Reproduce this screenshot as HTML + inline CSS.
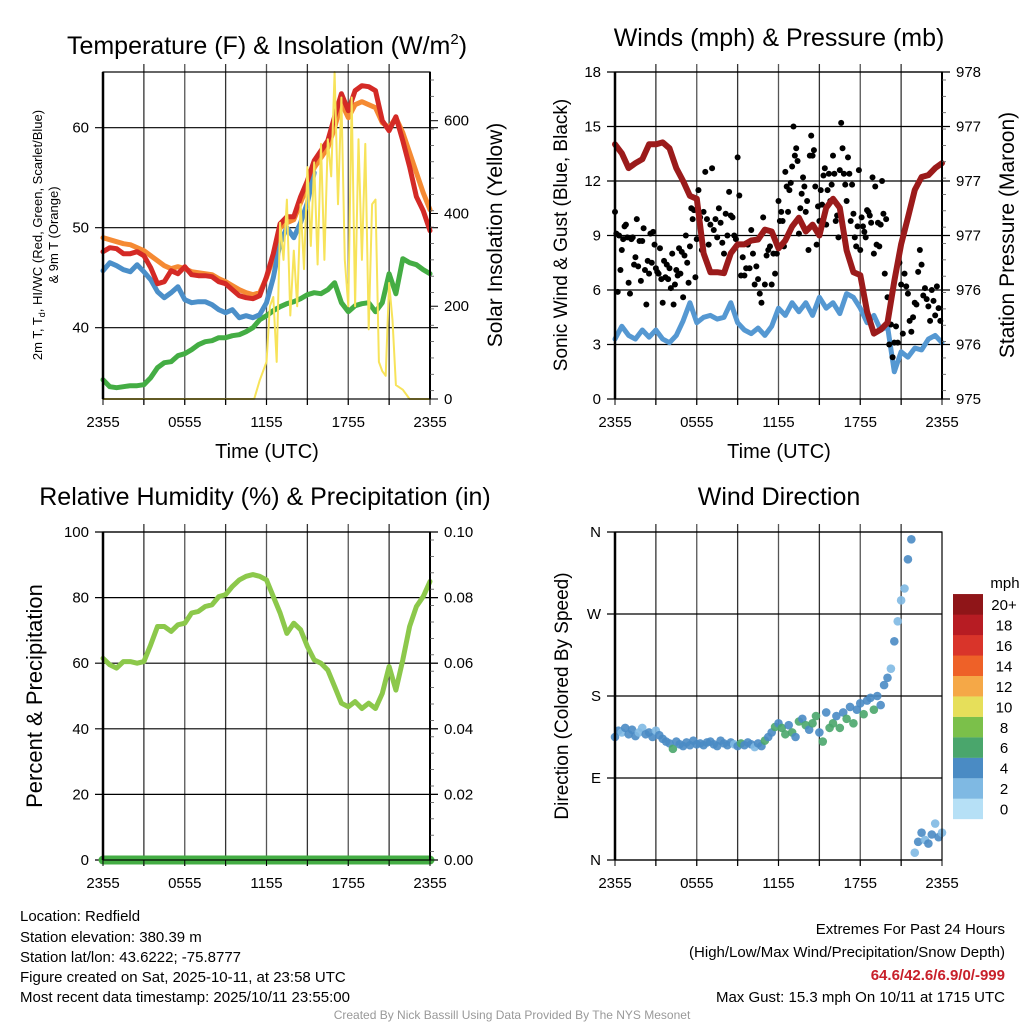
<!DOCTYPE html>
<html><head><meta charset="utf-8"><style>
html,body{margin:0;padding:0;background:#fff;}
svg{display:block;font-family:"Liberation Sans",Arial,sans-serif;}
</style></head><body>
<svg id="fig" width="1024" height="1024" viewBox="0 0 1024 1024" xmlns="http://www.w3.org/2000/svg">
<rect width="1024" height="1024" fill="#fff"/>
<g id="layer-grid"></g>
<g id="layer-data"></g>
<g id="layer-axes"></g>
<g id="layer-text" fill="#000">
 <text x="267" y="54" font-size="25" text-anchor="middle">Temperature (F) &amp; Insolation (W/m<tspan font-size="15" dy="-10">2</tspan><tspan dy="10">)</tspan></text>
 <text x="779" y="46" font-size="25" text-anchor="middle">Winds (mph) &amp; Pressure (mb)</text>
 <text x="265" y="505" font-size="25" text-anchor="middle">Relative Humidity (%) &amp; Precipitation (in)</text>
 <text x="779" y="505" font-size="25" text-anchor="middle">Wind Direction</text>
 <text x="267" y="458" font-size="20" text-anchor="middle">Time (UTC)</text>
 <text x="779" y="458" font-size="20" text-anchor="middle">Time (UTC)</text>
 <text transform="translate(42,235) rotate(-90)" font-size="13" text-anchor="middle">2m T, T<tspan font-size="9" dy="3">d</tspan><tspan dy="-3">, HI/WC (Red, Green, Scarlet/Blue)</tspan></text>
 <text transform="translate(58,235) rotate(-90)" font-size="13" text-anchor="middle">&amp; 9m T (Orange)</text>
 <text transform="translate(502,235) rotate(-90)" font-size="21" text-anchor="middle">Solar Insolation (Yellow)</text>
 <text transform="translate(567,235) rotate(-90)" font-size="19" text-anchor="middle">Sonic Wind &amp; Gust (Blue, Black)</text>
 <text transform="translate(1014,235) rotate(-90)" font-size="21" text-anchor="middle">Station Pressure (Maroon)</text>
 <text transform="translate(42,696) rotate(-90)" font-size="22" text-anchor="middle">Percent &amp; Precipitation</text>
 <text transform="translate(568,696) rotate(-90)" font-size="19" text-anchor="middle">Direction (Colored By Speed)</text>
 <g font-size="15">
  <text x="20" y="921">Location: Redfield</text>
  <text x="20" y="942">Station elevation: 380.39 m</text>
  <text x="20" y="962">Station lat/lon: 43.6222; -75.8777</text>
  <text x="20" y="982">Figure created on Sat, 2025-10-11, at 23:58 UTC</text>
  <text x="20" y="1002">Most recent data timestamp: 2025/10/11 23:55:00</text>
  <text x="1005" y="934" text-anchor="end">Extremes For Past 24 Hours</text>
  <text x="1005" y="957" text-anchor="end">(High/Low/Max Wind/Precipitation/Snow Depth)</text>
  <text x="1005" y="980" text-anchor="end" fill="#c8202a" font-weight="bold">64.6/42.6/6.9/0/-999</text>
  <text x="1005" y="1002" text-anchor="end">Max Gust: 15.3 mph On 10/11 at 1715 UTC</text>
 </g>
 <text x="512" y="1019" font-size="12" fill="#999" text-anchor="middle">Created By Nick Bassill Using Data Provided By The NYS Mesonet</text>
</g>
</svg>
<script>
// ---- data (half-hourly, 2355 -> 2355 UTC) ----
const timeTicks = ["2355","0555","1155","1755","2355"];
const tempTicks = [40,50,60];
const insolTicks = [0,200,400,600];
const windTicks = [0,3,6,9,12,15,18];
const pressTickLabels = ["975","976","976","977","977","977","978","978"];
const rhTicks = [0,20,40,60,80,100];
const precipTickLabels = ["0.00","0.02","0.04","0.06","0.08","0.10"];
const dirTickLabels = ["N","E","S","W","N"];
const legendLabels = ["0","2","4","6","8","10","12","14","16","18","20+"];
const legendColors = ["#b6e0f6","#7fb9e3","#4a8bc4","#4aa66c","#7bc04a","#e6df5a","#f5a847","#ee6128","#d9342a","#b71c23","#8f1518"];

const temp2m = [47.6,48.0,47.9,47.4,47.4,47.6,47.2,46.0,44.4,44.6,45.7,45.4,46.1,45.3,45.2,45.2,45.1,44.6,44.4,43.8,43.2,43.0,42.9,43.2,45.1,47.4,50.4,51.1,51.1,53.1,54.7,56.7,57.7,58.7,61.1,63.4,61.7,63.7,64.2,64.1,63.7,60.7,59.7,61.1,58.7,56.1,53.1,51.7,49.7];
const temp9m = [49.0,48.8,48.6,48.4,48.3,48.0,47.7,47.2,46.7,46.2,45.9,46.1,45.9,45.6,45.5,45.4,45.3,44.9,44.6,44.2,43.8,43.5,43.3,43.5,45.0,47.0,50.0,50.5,50.8,52.5,54.2,56.0,57.0,58.0,60.0,62.5,61.0,62.3,62.6,62.3,62.0,60.5,60.0,61.0,59.5,57.5,55.5,53.5,51.8];
const heatWind = [45.7,46.5,46.2,45.8,45.6,46.3,45.6,44.8,43.6,43.0,43.5,44.1,42.8,42.5,42.6,42.6,42.3,41.8,41.5,41.8,41.0,41.2,41.0,41.3,42.5,45.0,48.5,50.0,49.0,50.5,52.5,55.5,null,null,null,null,null,null,null,null,null,null,null,null,null,null,null,null,null];
const dewpoint = [34.8,34.1,34.0,34.1,34.2,34.2,34.3,35.0,36.0,36.5,36.6,37.2,37.4,37.8,38.3,38.6,38.7,39.0,39.0,39.2,39.3,39.6,40.0,40.8,41.2,41.7,42.1,42.4,42.6,42.9,43.3,43.5,43.4,43.8,44.5,42.5,41.6,42.2,42.4,42.5,41.6,42.5,45.4,43.4,46.9,46.5,46.3,45.8,45.4];
const insolHours = [0,11.1,11.5,11.75,12,12.25,12.5,12.75,13,13.25,13.5,13.75,14,14.25,14.5,14.75,15,15.25,15.5,15.75,16,16.25,16.5,16.75,17,17.25,17.5,17.75,18,18.25,18.5,18.75,19,19.25,19.5,19.75,20,20.25,20.5,20.75,21,21.25,21.5,22,22.5,24];
const insolation = [0,0,40,60,80,200,220,80,380,300,430,180,320,200,420,280,500,330,510,290,550,300,560,480,705,420,650,300,200,650,200,560,300,550,150,420,430,80,60,50,250,170,30,20,0,0];

const windSpeed = [3.3,4.0,3.5,3.3,3.8,3.4,3.8,3.3,3.1,3.5,4.3,5.3,4.2,4.5,4.6,4.4,4.5,5.3,4.2,3.8,3.6,3.9,3.5,4.0,5.0,4.6,5.3,4.8,5.3,4.6,5.6,5.0,5.3,4.7,5.8,5.6,5.0,4.2,4.6,3.8,4.0,1.5,2.6,2.3,2.8,2.7,3.3,3.5,3.1];
const pressure = [977.57,977.48,977.33,977.38,977.42,977.57,977.57,977.59,977.53,977.33,977.20,977.05,977.02,976.47,976.28,976.28,976.27,976.47,976.56,976.56,976.60,976.61,976.71,976.69,976.52,976.60,976.74,976.83,976.69,976.76,976.65,976.93,977.02,976.93,976.50,976.28,976.25,975.88,975.66,975.70,975.77,976.19,976.56,976.83,977.11,977.24,977.26,977.33,977.38];
const gustSegments = [[0,0.1,40],[4,0.1,20],[6,0.125,24],[9,0.125,24],[12,0.1,20],[14,0.1,20],[16,0.1,20],[18,0.1,20],[20,0.125,32]];
const gustSpeeds = [10.3,9.1,5.9,9.0,7.1,8.2,8.8,9.5,9.6,8.9,6.4,5.8,8.8,8.9,7.4,7.8,9.9,7.3,8.7,6.5,8.7,9.4,7.1,5.2,7.6,6.9,9.1,7.5,9.2,8.5,7.2,7.0,6.9,8.3,6.6,5.3,7.6,6.7,7.4,6.6,
7.2,6.1,8.0,5.2,6.3,7.1,6.8,8.3,6.9,8.1,5.6,7.9,9.0,7.5,6.4,8.4,10.5,9.9,10.4,6.7,
8.8,11.5,10.0,8.2,10.3,12.5,9.9,8.5,9.6,12.7,9.3,9.9,8.9,10.5,9.7,8.6,8.0,10.2,9.0,11.4,10.1,10.0,9.0,8.8,
13.3,11.2,6.8,7.8,6.8,7.2,8.5,7.2,9.3,8.0,6.3,7.3,6.6,5.8,5.3,10.0,6.3,7.9,8.2,8.4,6.3,8.0,6.9,8.0,
10.9,9.8,10.3,9.8,8.4,12.5,11.7,10.3,11.5,11.9,12.8,15.0,13.4,13.8,13.1,9.1,10.5,11.3,12.2,11.7,
10.3,10.9,8.2,13.4,14.5,13.4,13.7,11.7,8.5,10.6,9.8,11.5,10.7,12.3,12.7,9.6,11.5,12.4,10.9,11.8,
13.4,12.4,9.8,10.1,8.9,12.6,15.2,13.8,12.4,11.8,10.9,13.3,12.4,9.8,11.8,10.2,8.9,8.4,9.5,12.6,
8.2,10.0,9.5,9.2,8.9,10.4,10.3,10.1,9.7,12.2,8.0,11.7,8.5,9.7,8.4,9.6,12.0,10.2,6.9,9.9,
5.6,3.0,4.1,2.3,3.1,4.0,3.1,7.5,6.3,3.6,6.9,6.2,5.8,4.3,3.7,4.5,5.3,5.2,7.0,8.2,7.4,5.7,6.1,5.5,5.1,4.3,6.0,5.4,4.6,6.2,5.0,4.3];

const rh = [61.5,59.5,58.5,60.5,60.5,60.0,60.5,65.6,71.2,71.2,69.7,71.7,72.2,75.3,75.8,77.3,77.8,80.3,80.9,83.4,85.4,86.5,87.0,86.5,85.4,80.3,75.3,69.1,72.2,70.2,65.1,61.0,60.0,57.9,52.9,47.8,46.7,48.3,46.2,47.8,46.2,50.8,59.0,51.8,61.0,71.2,77.3,80.3,84.9];
const precip = [0,0,0,0,0,0,0,0,0,0,0,0,0,0,0,0,0,0,0,0,0,0,0,0,0,0,0,0,0,0,0,0,0,0,0,0,0,0,0,0,0,0,0,0,0,0,0,0,0];

// wind direction, quarter-hourly
const windDir = [135,142,140,145,138,143,136,140,145,138,140,135,142,137,133,130,
128,122,130,127,125,129,126,131,127,128,126,129,130,127,125,131,128,126,129,127,125,128,126,129,
127,124,128,125,131,135,140,146,
150,145,138,148,140,135,152,155,148,143,150,158,140,130,162,145,
150,158,145,162,155,168,150,165,172,160,175,178,165,180,170,192,200,210,240,262,285,298,330,352,8,20,30,22,18,28,40,25,30];
const dirSpeed = [3,3.5,2.5,3.5,3,4,3,2.5,2.5,3.5,3,3.5,2.5,3.5,3,3.5,
3.5,5.5,3.5,3.5,3,3.5,3.5,3.5,4,3.5,3.5,3.5,3,4,3.5,3.5,4,3.5,3.5,2.5,3,5.5,3.5,3.5,
3.5,2.5,3.5,3.5,5.5,3.5,3.5,5.5,
3.5,5.5,5.5,3.5,5.5,3.5,5.5,3.5,5.5,3.5,5.5,5.5,3.5,5.5,3.5,5.5,
5.5,3.5,5.5,3.5,5.5,3.5,5.5,3.5,3.5,5.5,3.5,3.5,5.5,3.5,3.5,3.5,3.5,2.5,3.5,2.5,1.5,2.5,3.5,3.5,2.5,3.5,3.5,2.5,3.5,3.5,2.5,3.5,2.5];

// ---- layout ----
const NS = "http://www.w3.org/2000/svg";
const gGrid = document.getElementById('layer-grid');
const gData = document.getElementById('layer-data');
const gAxes = document.getElementById('layer-axes');
const PW = 327;
const P1 = {x0:103,y0:72,y1:399}, P2 = {x0:615,y0:72,y1:399}, P3 = {x0:103,y0:532,y1:860}, P4 = {x0:615,y0:532,y1:860};
function xAt(p,h){ return p.x0 + h*PW/24; }
function lin(p,v,lo,hi){ return p.y1 - (v-lo)/(hi-lo)*(p.y1-p.y0); }
const yT = v => lin(P1,v,32.87,65.57);
const yI = v => lin(P1,v,0,705);
const yW = v => lin(P2,v,0,18);
const yP = v => lin(P2,v,975,978.3);
const yRH = v => lin(P3,v,0,100);
const yPr = v => lin(P3,v,0,0.1);
const yD = v => lin(P4,v,0,360);

function el(tag, attrs, parent){
  const e = document.createElementNS(NS, tag);
  for (const k in attrs) e.setAttribute(k, attrs[k]);
  parent.appendChild(e);
  return e;
}
function pathFrom(xs, ys){
  let d = "", pen = false;
  for (let i=0;i<xs.length;i++){
    if (ys[i]===null){ pen=false; continue; }
    d += (pen?"L":"M") + xs[i].toFixed(1) + " " + ys[i].toFixed(1);
    pen = true;
  }
  return d;
}
function halfHours(n){ const a=[]; for(let i=0;i<n;i++) a.push(i*0.5); return a; }

function panelFrame(p, name, leftVals, leftFn, leftLabels, rightVals, rightFn, rightLabels, showRight){
  for (let k=1;k<8;k++){
    const x = xAt(p,k*3);
    const v = el('line',{x1:x,y1:p.y0-8,x2:x,y2:p.y1+6,stroke:(k%2?'#333':'#555'),'stroke-width':1.3},gGrid);
    
    
  }
  leftVals.forEach(v=>{
    const y = leftFn(v);
    const h = el('line',{x1:p.x0-8,y1:y,x2:p.x0+PW+(showRight?8:0),y2:y,stroke:'#000','stroke-width':1.2},gGrid);
    
    
  });
  const f = el('rect',{x:p.x0,y:p.y0,width:PW,height:p.y1-p.y0,fill:'none',stroke:'#000','stroke-width':1.2},gAxes);
  
  
  const la = el('line',{x1:p.x0,y1:p.y0,x2:p.x0,y2:p.y1,stroke:'#000','stroke-width':2.5},gAxes);
  
  
  for (let k=0;k<=8;k++){
    const x = xAt(p,k*3);
    const t = el('line',{x1:x,y1:p.y1,x2:x,y2:p.y1+6,stroke:'#000','stroke-width':1},gAxes);
    
    
  }
  timeTicks.forEach((lab,i)=>{
    const t = el('text',{x:xAt(p,i*6),y:p.y1+28,'font-size':15,'text-anchor':'middle'},gAxes);
    t.textContent = lab;
    
    
  });
  leftVals.forEach((v,i)=>{
    const t = el('text',{x:p.x0-14,y:leftFn(v)+5,'font-size':15,'text-anchor':'end'},gAxes);
    t.textContent = leftLabels ? leftLabels[i] : String(v);
    
    
  });
  if (showRight){
    const ra = el('line',{x1:p.x0+PW,y1:p.y0,x2:p.x0+PW,y2:p.y1,stroke:'#000','stroke-width':2},gAxes);
    
    
    rightVals.forEach((v,i)=>{
      const y = rightFn(v);
      const tk = el('line',{x1:p.x0+PW,y1:y,x2:p.x0+PW+8,y2:y,stroke:'#000','stroke-width':1},gAxes);
      
      
      const t = el('text',{x:p.x0+PW+14,y:y+5,'font-size':15},gAxes);
      t.textContent = rightLabels ? rightLabels[i] : String(v);
      
      
    });
    for (let y=p.y0+8; y<p.y1; y+= (p.y1-p.y0)/20){
      const m = el('line',{x1:p.x0+PW,y1:y,x2:p.x0+PW+4,y2:y,stroke:'#555','stroke-width':0.8},gAxes);
      
      
    }
  }
}

panelFrame(P1,'temperature',tempTicks,yT,null,insolTicks,yI,null,true);
const hh = halfHours(49);
function line(xs, ys, color, w, name, parent){
  const p = el('path',{d:pathFrom(xs,ys),fill:'none',stroke:color,'stroke-width':w,'stroke-linejoin':'round','stroke-linecap':'round'},parent||gData);
  
  
  return p;
}
line(hh.map(h=>xAt(P1,h)), dewpoint.map(yT), '#44ad44', 5, 'dewpoint-line');
line(hh.map(h=>xAt(P1,h)), temp9m.map(yT), '#f58a33', 5, 'temp-9m-line');
line(hh.map(h=>xAt(P1,h)), heatWind.map(v=>v===null?null:yT(v)), '#4b8fc9', 5, 'wind-chill-line');
line(hh.map(h=>xAt(P1,h)), temp2m.map(yT), '#d42a26', 5, 'temp-2m-line');
line(insolHours.map(h=>xAt(P1,h)), insolation.map(yI), '#f7e35a', 2, 'insolation-line');

panelFrame(P2,'winds',windTicks,yW,null,windTicks.map(v=>975+v*3.3/18),yP,pressTickLabels,true);
line(hh.map(h=>xAt(P2,h)), windSpeed.map(yW), '#5598d2', 5, 'sonic-wind-line');
let gi = 0;
gustSegments.forEach(seg=>{
  for (let j=0;j<seg[2];j++){
    const h = seg[0]+j*seg[1];
    const v = gustSpeeds[gi++];
    if (v===undefined) continue;
    const c = el('circle',{cx:xAt(P2,h),cy:yW(v),r:3,fill:'#000'},gData);
    
    
  }
});
line(hh.map(h=>xAt(P2,h)), pressure.map(yP), '#9b1b1b', 6, 'pressure-line');

panelFrame(P3,'humidity',rhTicks,yRH,null,[0,0.02,0.04,0.06,0.08,0.1],yPr,precipTickLabels,true);
line(hh.map(h=>xAt(P3,h)), rh.map(yRH), '#8cc84b', 5, 'humidity-line');
line(hh.map(h=>xAt(P3,h)), precip.map(yPr), '#44ad44', 9, 'precipitation-line');

panelFrame(P4,'direction',[0,90,180,270,360],yD,dirTickLabels,[],yD,null,false);
windDir.forEach((d,i)=>{
  const h = i*0.25;
  const idx = Math.min(10, Math.max(0, Math.round(dirSpeed[i]/2)));
  const c = el('circle',{cx:xAt(P4,h),cy:yD(d),r:4.3,fill:legendColors[idx],'fill-opacity':0.9},gData);
  
  
});
const legG = el('g',{},gAxes);


const mph = el('text',{x:1005,y:588,'font-size':15,'text-anchor':'middle'},legG);
mph.textContent = 'mph';


legendColors.forEach((c,i)=>{
  const y = 819 - (i+1)*20.45;
  const r = el('rect',{x:953,y:y,width:30,height:20.6,fill:c},legG);
  
  
  const t = el('text',{x:1004,y:y+16,'font-size':15,'text-anchor':'middle'},legG);
  t.textContent = legendLabels[i];
  
  
});
</script>
</body></html>
